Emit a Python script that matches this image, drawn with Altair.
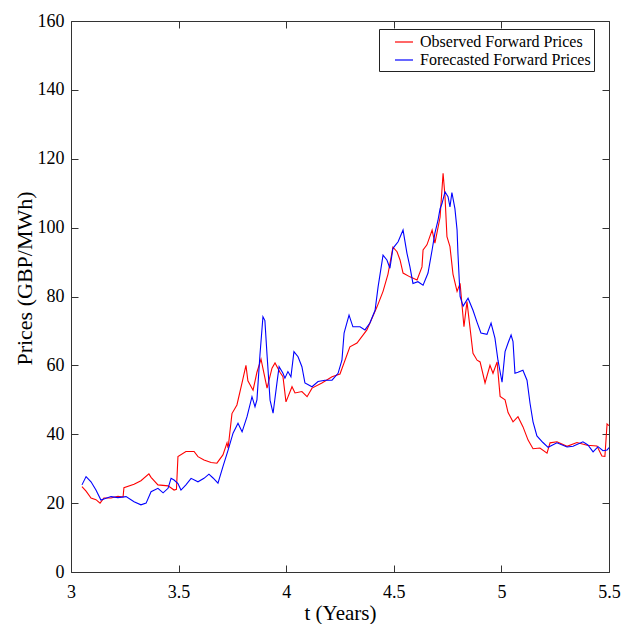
import altair as alt
import pandas as pd

# Observed forward prices (t in years, GBP/MWh)
obs_t = [3.051, 3.070, 3.093, 3.116, 3.135, 3.153, 3.186, 3.218, 3.242, 3.246, 3.293, 3.325,
         3.362, 3.372, 3.404, 3.451, 3.479, 3.490, 3.497, 3.534, 3.572, 3.590, 3.618, 3.651,
         3.678, 3.706, 3.725, 3.730, 3.748, 3.771, 3.795, 3.813, 3.822, 3.846, 3.864, 3.883,
         3.911, 3.934, 3.948, 3.971, 3.985, 3.999, 4.027, 4.041, 4.073, 4.097, 4.120, 4.166,
         4.213, 4.250, 4.296, 4.329, 4.375, 4.422, 4.450, 4.473, 4.496, 4.515, 4.529, 4.543,
         4.575, 4.608, 4.631, 4.636, 4.654, 4.678, 4.691, 4.715, 4.729, 4.738, 4.747, 4.761,
         4.775, 4.794, 4.808, 4.826, 4.840, 4.868, 4.887, 4.901, 4.924, 4.947, 4.961, 4.980,
         4.994, 5.017, 5.031, 5.054, 5.077, 5.100, 5.124, 5.147, 5.179, 5.212, 5.226, 5.258,
         5.305, 5.351, 5.398, 5.444, 5.467, 5.481, 5.491, 5.500]
obs_v = [24.8, 23.5, 21.5, 21.0, 20.0, 21.5, 21.5, 22.0, 21.8, 24.5, 25.5, 26.5,
         28.5, 27.5, 25.3, 25.0, 23.8, 24.0, 33.5, 35.0, 35.0, 33.5, 32.5, 31.8,
         31.6, 34.0, 37.5, 36.0, 46.0, 48.5, 55.0, 60.0, 55.5, 52.8, 58.0, 61.8,
         53.4, 59.2, 60.7, 58.0, 56.7, 49.4, 53.8, 52.0, 52.4, 50.9, 53.4, 54.9,
         56.7, 57.5, 65.4, 66.5, 70.3, 77.0, 81.5, 86.5, 94.3, 93.0, 90.6, 86.8,
         85.7, 84.8, 88.6, 93.5, 95.0, 99.3, 95.5, 103.0, 115.8, 109.0, 97.4, 94.5,
         86.5, 81.5, 83.8, 71.2, 78.5, 63.5, 61.5, 61.0, 54.9, 60.0, 57.7, 61.0,
         51.0, 50.0, 46.3, 43.6, 45.1, 42.2, 38.3, 35.8, 36.0, 34.5, 37.5, 37.8,
         36.5, 37.6, 36.8, 36.6, 33.7, 33.6, 43.0, 42.5]

# Forecasted forward prices
fc_t = [3.051, 3.070, 3.093, 3.116, 3.139, 3.153, 3.186, 3.218, 3.256, 3.293, 3.325, 3.349,
        3.372, 3.404, 3.428, 3.451, 3.465, 3.479, 3.497, 3.511, 3.534, 3.558, 3.590, 3.618,
        3.641, 3.660, 3.683, 3.706, 3.730, 3.753, 3.776, 3.795, 3.818, 3.841, 3.855, 3.864,
        3.878, 3.892, 3.901, 3.911, 3.925, 3.939, 3.957, 3.967, 3.985, 3.994, 4.008, 4.022,
        4.036, 4.055, 4.073, 4.087, 4.120, 4.148, 4.180, 4.213, 4.241, 4.259, 4.269, 4.273,
        4.292, 4.310, 4.343, 4.366, 4.389, 4.413, 4.427, 4.450, 4.468, 4.482, 4.496, 4.520,
        4.543, 4.561, 4.575, 4.589, 4.612, 4.636, 4.659, 4.678, 4.691, 4.705, 4.715, 4.724,
        4.738, 4.752, 4.761, 4.770, 4.784, 4.794, 4.798, 4.808, 4.822, 4.845, 4.868, 4.887,
        4.905, 4.933, 4.952, 4.970, 4.984, 5.003, 5.017, 5.031, 5.045, 5.054, 5.063, 5.077,
        5.100, 5.119, 5.133, 5.147, 5.165, 5.193, 5.217, 5.258, 5.305, 5.333, 5.379, 5.402,
        5.426, 5.449, 5.472, 5.491, 5.500]
fc_v = [25.3, 27.7, 26.2, 23.8, 20.9, 21.2, 21.9, 21.6, 21.9, 20.4, 19.5, 20.0,
        23.3, 24.3, 23.0, 24.3, 27.2, 26.7, 25.7, 23.8, 25.3, 27.2, 26.2, 27.2,
        28.4, 27.3, 25.8, 30.6, 35.4, 40.3, 43.2, 40.7, 45.1, 50.9, 48.0, 50.0,
        63.0, 74.1, 73.0, 63.0, 49.9, 46.1, 54.9, 59.6, 57.7, 56.3, 58.2, 56.7,
        64.0, 62.5, 59.6, 54.9, 53.8, 55.3, 55.7, 55.7, 57.7, 61.5, 69.4, 70.3,
        74.6, 71.2, 71.2, 70.3, 72.3, 76.0, 82.8, 92.0, 90.6, 88.2, 94.0, 95.9,
        99.3, 92.6, 88.6, 83.8, 84.3, 83.3, 86.8, 93.5, 98.4, 102.0, 105.5, 107.0,
        110.4, 109.0, 106.0, 110.2, 105.5, 99.3, 92.6, 80.0, 77.2, 79.5, 76.0, 72.5,
        69.4, 69.0, 72.3, 67.9, 61.5, 55.1, 64.0, 66.5, 68.8, 66.9, 57.7, 58.0,
        58.6, 55.7, 49.0, 43.6, 39.5, 37.6, 36.2, 37.5, 36.3, 36.5, 37.8, 36.9,
        34.9, 36.4, 35.2, 35.4, 36.1]

series_names = ["Observed Forward Prices", "Forecasted Forward Prices"]
series_colors = ["#ff0000", "#0000ff"]
x_ticks = [3, 3.5, 4, 4.5, 5, 5.5]
y_ticks = [0, 20, 40, 60, 80, 100, 120, 140, 160]

df = pd.concat([
    pd.DataFrame({"t": obs_t, "price": obs_v, "series": series_names[0], "order": 0}),
    pd.DataFrame({"t": fc_t, "price": fc_v, "series": series_names[1], "order": 1}),
], ignore_index=True)

FONT = "Liberation Serif"
xdom = alt.Scale(domain=[3, 5.5], nice=False, zero=False)
ydom = alt.Scale(domain=[0, 160], nice=False)

lines = alt.Chart(df).mark_line(strokeWidth=1.1, clip=True).encode(
    x=alt.X("t:Q", scale=xdom,
            axis=alt.Axis(orient="bottom", values=x_ticks, title="t (Years)", format="~g",
                          domain=False, offset=-7, tickSize=7, tickColor="#333333",
                          labelPadding=11, labelFontSize=18, labelFont=FONT,
                          labelColor="black", titleFont=FONT, titleFontSize=21,
                          titleFontWeight="normal", titleColor="black", titlePadding=1,
                          grid=False, labelFlush=False)),
    y=alt.Y("price:Q", scale=ydom,
            axis=alt.Axis(orient="left", values=y_ticks, title="Prices (GBP/MWh)",
                          domain=False, offset=-7, tickSize=7, tickColor="#333333",
                          labelPadding=7, labelFontSize=18, labelFont=FONT,
                          labelColor="black", titleFont=FONT, titleFontSize=22,
                          titleFontWeight="normal", titleColor="black", titlePadding=1,
                          titleY=257, grid=False, labelFlush=False)),
    color=alt.Color("series:N",
                    scale=alt.Scale(domain=series_names, range=series_colors),
                    legend=alt.Legend(title=None, orient="none", legendX=308, legendY=8,
                                      symbolType="stroke", symbolSize=324,
                                      symbolStrokeWidth=1.2, labelFont=FONT,
                                      labelFontSize=16, labelColor="black",
                                      labelOffset=6, rowPadding=0, padding=3,
                                      symbolOffset=12, strokeColor="#222222",
                                      fillColor="white", labelLimit=300)),
    order=alt.Order("order:Q"),
    detail="series:N",
)

frame = alt.Chart(df).mark_line(opacity=0).encode(
    x=alt.X("t:Q", scale=xdom,
            axis=alt.Axis(orient="top", values=x_ticks, title=None, labels=False,
                          domain=False, offset=-7, tickSize=7, tickColor="#333333",
                          grid=False)),
    y=alt.Y("price:Q", scale=ydom,
            axis=alt.Axis(orient="right", values=y_ticks, title=None, labels=False,
                          domain=False, offset=-7, tickSize=7, tickColor="#333333",
                          grid=False)),
    detail="series:N",
)

chart = alt.layer(lines, frame).resolve_scale(
    x="independent", y="independent"
).properties(
    width=538, height=551,
    autosize=alt.AutoSizeParams(type="none"),
    padding={"left": 71, "top": 21, "right": 20, "bottom": 52},
    background="white",
).configure_view(stroke="#333333", strokeWidth=1)

chart.save("out.html", embed_options={"renderer": "svg", "actions": False})
